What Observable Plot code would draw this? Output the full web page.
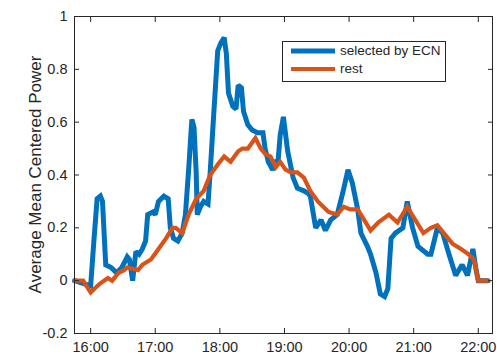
<!DOCTYPE html>
<html>
<head>
<meta charset="utf-8">
<script src="https://cdn.jsdelivr.net/npm/d3@7"></script>
<script src="https://cdn.jsdelivr.net/npm/@observablehq/plot@0.6"></script>
<style>
  html, body { margin: 0; padding: 0; background: #fff; }
  #chart { position: relative; width: 497px; height: 357px; }
</style>
</head>
<body>
<div id="chart"></div>
<script>
// ---- data ----
const seriesNames = ["selected by ECN", "rest"];
const seriesColors = ["#0072BD", "#D95319"];

const ecnTimes = ["15:45","16:00","16:03","16:06","16:09","16:11","16:14","16:19","16:24","16:29","16:34","16:36","16:39","16:42","16:45","16:48","16:51","16:53","16:58","17:00","17:03","17:08","17:12","17:14","17:17","17:21","17:25","17:28","17:31","17:34","17:36","17:38","17:39","17:42","17:45","17:49","17:51","17:54","17:58","18:01","18:04","18:06","18:08","18:12","18:15","18:17","18:20","18:22","18:26","18:30","18:35","18:40","18:42","18:45","18:49","18:52","18:54","18:56","18:59","19:03","19:08","19:12","19:18","19:22","19:24","19:29","19:34","19:38","19:43","19:49","19:54","19:59","20:03","20:08","20:11","20:17","20:20","20:25","20:29","20:33","20:36","20:39","20:43","20:50","20:54","20:59","21:04","21:13","21:16","21:22","21:27","21:32","21:39","21:45","21:50","21:55","21:58","22:00","22:09"];
const ecnValues = [0,-0.02,0.15,0.31,0.32,0.30,0.06,0.05,0.03,0.05,0.09,0.08,0.0,0.11,0.10,0.12,0.15,0.25,0.26,0.25,0.30,0.32,0.31,0.20,0.16,0.15,0.18,0.25,0.42,0.61,0.58,0.41,0.25,0.28,0.30,0.29,0.41,0.61,0.87,0.90,0.92,0.86,0.71,0.66,0.65,0.74,0.73,0.64,0.59,0.57,0.56,0.56,0.50,0.45,0.42,0.45,0.45,0.55,0.62,0.49,0.39,0.35,0.34,0.33,0.32,0.20,0.23,0.19,0.23,0.25,0.33,0.42,0.37,0.27,0.18,0.13,0.10,0.03,-0.05,-0.06,-0.03,0.16,0.18,0.20,0.30,0.20,0.13,0.10,0.10,0.20,0.18,0.11,0.02,0.06,0.02,0.12,0.04,0.0,0.0];

const restTimes = ["15:45","15:53","16:00","16:05","16:09","16:16","16:20","16:26","16:31","16:34","16:39","16:44","16:48","16:56","17:03","17:10","17:16","17:19","17:25","17:31","17:38","17:45","17:51","17:58","18:04","18:10","18:17","18:21","18:26","18:33","18:38","18:42","18:47","18:52","18:56","19:01","19:06","19:12","19:18","19:24","19:31","19:36","19:41","19:49","19:55","20:01","20:08","20:14","20:20","20:27","20:37","20:45","20:54","21:00","21:09","21:16","21:22","21:28","21:36","21:44","21:51","21:56","22:00","22:09"];
const restValues = [0,0,-0.045,-0.025,-0.01,0.01,0.0,0.03,0.04,0.05,0.045,0.04,0.06,0.08,0.12,0.16,0.20,0.20,0.18,0.25,0.31,0.34,0.40,0.44,0.47,0.45,0.49,0.50,0.50,0.54,0.50,0.48,0.47,0.43,0.45,0.42,0.41,0.41,0.39,0.34,0.30,0.28,0.26,0.25,0.28,0.27,0.27,0.23,0.19,0.22,0.25,0.22,0.28,0.24,0.18,0.20,0.21,0.18,0.14,0.12,0.10,0.08,0.0,0.0];

const xTicks = [16, 17, 18, 19, 20, 21, 22];
const xTickLabels = ["16:00", "17:00", "18:00", "19:00", "20:00", "21:00", "22:00"];
const yTicks = [-0.2, 0, 0.2, 0.4, 0.6, 0.8, 1];
const yTickLabels = ["-0.2", "0", "0.2", "0.4", "0.6", "0.8", "1"];
const yLabel = "Average Mean Centered Power";

// ---- build table ----
const toHours = s => { const [h, m] = s.split(":").map(Number); return h + m / 60; };
const ecn = ecnTimes.map((t, i) => ({t: toHours(t), v: ecnValues[i]}));
const rest = restTimes.map((t, i) => ({t: toHours(t), v: restValues[i]}));

const ink = "#262626";
const font = "'Liberation Sans', Arial, Helvetica, sans-serif";
const widths = [5, 4.2];

const chart = Plot.plot({
  width: 497,
  height: 357,
  marginLeft: 74,
  marginRight: 5,
  marginTop: 16,
  marginBottom: 24,
  style: {fontFamily: font, fontSize: "14.5px", color: ink, background: "#fff", overflow: "visible"},
  x: {domain: [15.75, 22.22]},
  y: {domain: [-0.2, 1]},
  marks: [
    Plot.line(ecn, {x: "t", y: "v", stroke: seriesColors[0], strokeWidth: widths[0], strokeLinejoin: "miter", strokeMiterlimit: 2}),
    Plot.line(rest, {x: "t", y: "v", stroke: seriesColors[1], strokeWidth: widths[1], strokeLinejoin: "miter", strokeMiterlimit: 2}),
    Plot.frame({stroke: ink, strokeWidth: 1}),
    // inward ticks
    Plot.axisX({ticks: xTicks, anchor: "bottom", tickSize: -5, tickFormat: () => "", label: null, stroke: ink}),
    Plot.axisX({ticks: xTicks, anchor: "top", tickSize: -5, tickFormat: () => "", label: null, stroke: ink}),
    Plot.axisY({ticks: yTicks, anchor: "left", tickSize: -5, tickFormat: () => "", label: null, stroke: ink}),
    Plot.axisY({ticks: yTicks, anchor: "right", tickSize: -5, tickFormat: () => "", label: null, stroke: ink}),
    // labels
    Plot.axisX({ticks: xTicks, anchor: "bottom", tickSize: 0, tickPadding: 8, label: null,
      tickFormat: d => xTickLabels[xTicks.indexOf(d)], fill: ink}),
    Plot.axisY({ticks: yTicks, anchor: "left", tickSize: 0, tickPadding: 7, label: null,
      tickFormat: d => yTickLabels[yTicks.findIndex(t => Math.abs(t - d) < 1e-9)], fill: ink})
  ]
});
document.getElementById("chart").appendChild(chart);

// y axis title
const svg = d3.select(chart);
const yScale = chart.scale("y");
const yMid = (yScale.apply(-0.2) + yScale.apply(1)) / 2;
svg.append("text")
  .attr("transform", `translate(37,${yMid}) rotate(-90)`)
  .style("text-anchor", "middle")
  .style("dominant-baseline", "middle")
  .style("fill", ink)
  .style("font-family", font)
  .style("font-size", "17px")
  .text(yLabel);

// legend box
const lg = svg.append("g");
lg.append("rect").attr("x", 282.5).attr("y", 41.5).attr("width", 163).attr("height", 40)
  .style("fill", "#fff").style("stroke", ink).style("stroke-width", "1px");
seriesNames.forEach((name, i) => {
  const cy = 51 + i * 18;
  lg.append("line").attr("x1", 291).attr("x2", 335).attr("y1", cy).attr("y2", cy)
    .style("stroke", seriesColors[i]).style("stroke-width", widths[i] + "px");
  lg.append("text").attr("x", 340).attr("y", cy)
    .style("text-anchor", "start").style("dominant-baseline", "middle")
    .style("font-family", font).style("font-size", "13.5px")
    .style("fill", ink).text(name);
});
</script>
</body>
</html>
